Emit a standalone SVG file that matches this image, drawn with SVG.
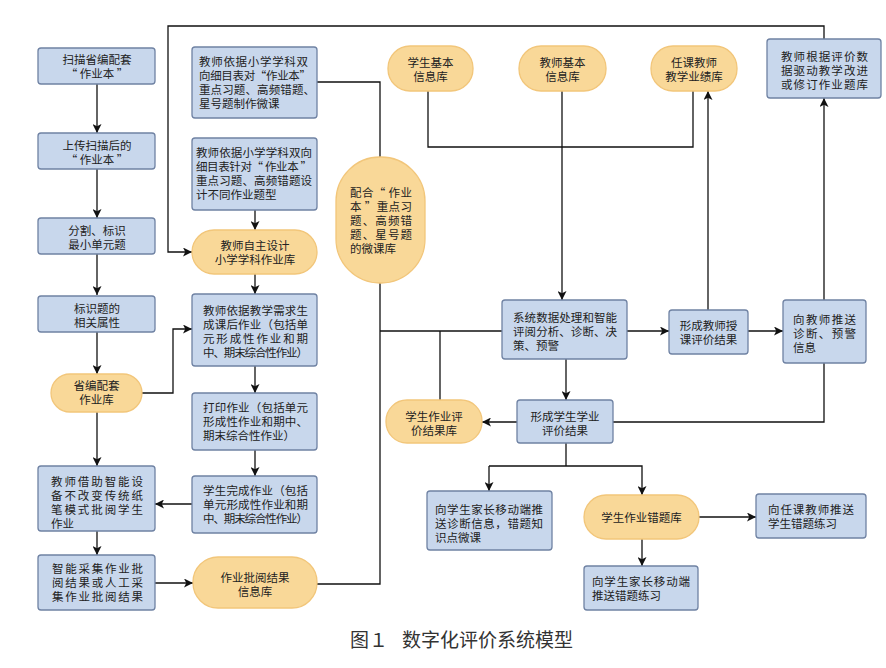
<svg xmlns="http://www.w3.org/2000/svg" width="886" height="668" viewBox="0 0 886 668">
<style>
.b{fill:#c8d7ec;stroke:#6f82a3;stroke-width:1.3}
.o{fill:#f9d898;stroke:#f2c67a;stroke-width:1.3}
text{font-family:"Noto Sans CJK SC","Noto Sans",sans-serif;font-size:11.5px;fill:#222}
.c{text-anchor:middle}
.cap{font-size:19px;fill:#333}
.ln{fill:none;stroke:#111;stroke-width:1.3}
.ar{fill:none;stroke:#111;stroke-width:1.3;marker-end:url(#a)}
</style>
<defs>
<marker id="a" viewBox="0 0 10 10" refX="10" refY="5" markerWidth="9" markerHeight="9" markerUnits="userSpaceOnUse" orient="auto">
<path d="M0,0 L10,5 L0,10 L2.5,5 Z" fill="#111"/>
</marker>
</defs>
<rect width="886" height="668" fill="#fff"/>

<g id="connectors">
<path class="ar" d="M97,84 V133"/>
<path class="ar" d="M97,169 V218"/>
<path class="ar" d="M97,254 V295"/>
<path class="ar" d="M97,332 V374"/>
<path class="ar" d="M97,412 V466"/>
<path class="ar" d="M97,531 V555"/>
<path class="ar" d="M155,583 H193"/>
<path class="ar" d="M192,504 H155"/>
<path class="ar" d="M142,393 H173 V329 H192"/>
<path class="ar" d="M255,210 V230"/>
<path class="ar" d="M255,274 V294"/>
<path class="ar" d="M255,366 V393"/>
<path class="ar" d="M255,450 V476"/>
<path class="ar" d="M824,39 V26 H168 V252 H192"/>
<path class="ln" d="M317,82 H380 V157"/>
<path class="ln" d="M380,283 V584 H317"/>
<path class="ln" d="M380,331 H502"/>
<path class="ln" d="M440,331 V400"/>
<path class="ln" d="M428,91 V147 H693 V91"/>
<path class="ar" d="M562,91 V300"/>
<path class="ar" d="M627,331 H669"/>
<path class="ar" d="M708,310 V91"/>
<path class="ar" d="M748,331 H783"/>
<path class="ar" d="M824,300 V98"/>
<path class="ln" d="M824,363 V422 H613"/>
<path class="ar" d="M566,359 V400"/>
<path class="ar" d="M517,422 H482"/>
<path class="ln" d="M566,443 V466"/>
<path class="ar" d="M489,466 H642 V495"/>
<path class="ar" d="M489,466 V491"/>
<path class="ar" d="M699,517 H756"/>
<path class="ar" d="M642,539 V566"/>
</g>

<g id="n-scan">
<rect class="b" x="38" y="48" width="117" height="36" rx="3"/>
<text class="c"><tspan x="97" y="64">扫描省编配套</tspan><tspan x="97" y="78">“ 作业本 ”</tspan></text>
</g>
<g id="n-upload">
<rect class="b" x="38" y="133" width="117" height="36" rx="3"/>
<text class="c"><tspan x="97" y="149.5">上传扫描后的</tspan><tspan x="97" y="163.5">“ 作业本 ”</tspan></text>
</g>
<g id="n-split">
<rect class="b" x="38" y="218" width="117" height="36" rx="3"/>
<text class="c"><tspan x="97" y="234.5">分割、标识</tspan><tspan x="97" y="248.5">最小单元题</tspan></text>
</g>
<g id="n-attr">
<rect class="b" x="38" y="296" width="117" height="36" rx="3"/>
<text class="c"><tspan x="97" y="312.5">标识题的</tspan><tspan x="97" y="326.5">相关属性</tspan></text>
</g>
<g id="n-provlib">
<rect class="o" x="51" y="374" width="91" height="38" rx="19"/>
<text class="c"><tspan x="96.5" y="390">省编配套</tspan><tspan x="96.5" y="404">作业库</tspan></text>
</g>
<g id="n-mark">
<rect class="b" x="38" y="466" width="117" height="65" rx="3"/>
<text><tspan x="51" y="486" textLength="92">教师借助智能设</tspan><tspan x="51" y="500" textLength="92">备不改变传统纸</tspan><tspan x="51" y="514" textLength="92">笔模式批阅学生</tspan><tspan x="51" y="528">作业</tspan></text>
</g>
<g id="n-collect">
<rect class="b" x="38" y="555" width="117" height="55" rx="3"/>
<text><tspan x="52" y="573" textLength="91">智能采集作业批</tspan><tspan x="52" y="587" textLength="91">阅结果或人工采</tspan><tspan x="52" y="601" textLength="91">集作业批阅结果</tspan></text>
</g>

<g id="n-micro">
<rect class="b" x="192" y="47" width="125" height="71" rx="3"/>
<text><tspan x="199" y="66" textLength="109">教师依据小学学科双</tspan><tspan x="199" y="80" textLength="112">向细目表对“作业本”</tspan><tspan x="199" y="94" textLength="116">重点习题、高频错题、</tspan><tspan x="199" y="108">星号题制作微课</tspan></text>
</g>
<g id="n-design">
<rect class="b" x="192" y="138" width="125" height="72" rx="3"/>
<text><tspan x="196" y="157" textLength="116">教师依据小学学科双向</tspan><tspan x="196" y="171" textLength="116">细目表针对“ 作业本 ”</tspan><tspan x="196" y="185" textLength="116">重点习题、高频错题设</tspan><tspan x="196" y="199">计不同作业题型</tspan></text>
</g>
<g id="n-selflib">
<rect class="o" x="192" y="230" width="125" height="44" rx="22"/>
<text class="c"><tspan x="255" y="249.5">教师自主设计</tspan><tspan x="255" y="263.5">小学学科作业库</tspan></text>
</g>
<g id="n-gen">
<rect class="b" x="192" y="294" width="125" height="72" rx="3"/>
<text><tspan x="203" y="315" textLength="105">教师依据教学需求生</tspan><tspan x="203" y="329" textLength="105">成课后作业（包括单</tspan><tspan x="203" y="343" textLength="105">元形成性作业和期</tspan><tspan x="203" y="357" textLength="105">中、期末综合性作业）</tspan></text>
</g>
<g id="n-print">
<rect class="b" x="192" y="393" width="125" height="57" rx="3"/>
<text><tspan x="203" y="412" textLength="105">打印作业（包括单元</tspan><tspan x="203" y="426" textLength="105">形成性作业和期中、</tspan><tspan x="203" y="440">期末综合性作业）</tspan></text>
</g>
<g id="n-finish">
<rect class="b" x="192" y="476" width="125" height="57" rx="3"/>
<text><tspan x="203" y="495" textLength="105">学生完成作业（包括</tspan><tspan x="203" y="509" textLength="105">单元形成性作业和期</tspan><tspan x="203" y="523" textLength="105">中、期末综合性作业）</tspan></text>
</g>
<g id="n-resultlib">
<rect class="o" x="193" y="557" width="124" height="51" rx="25"/>
<text class="c"><tspan x="255" y="581.5">作业批阅结果</tspan><tspan x="255" y="595.5">信息库</tspan></text>
</g>

<g id="n-microlib">
<rect class="o" x="336" y="157" width="89" height="126" rx="44"/>
<text><tspan x="350" y="197" textLength="62">配合“ 作业</tspan><tspan x="350" y="211" textLength="62">本 ”重点习</tspan><tspan x="350" y="225" textLength="62">题、高频错</tspan><tspan x="350" y="239" textLength="62">题、星号题</tspan><tspan x="350" y="253">的微课库</tspan></text>
</g>

<g id="n-stulib">
<rect class="o" x="388" y="46" width="85" height="45" rx="22"/>
<text class="c"><tspan x="430.5" y="66.5">学生基本</tspan><tspan x="430.5" y="80.5">信息库</tspan></text>
</g>
<g id="n-tealib">
<rect class="o" x="519" y="46" width="87" height="45" rx="22"/>
<text class="c"><tspan x="562.5" y="66.5">教师基本</tspan><tspan x="562.5" y="80.5">信息库</tspan></text>
</g>
<g id="n-perflib">
<rect class="o" x="651" y="46" width="86" height="45" rx="22"/>
<text class="c"><tspan x="694" y="66.5">任课教师</tspan><tspan x="694" y="80.5">教学业绩库</tspan></text>
</g>
<g id="n-improve">
<rect class="b" x="767" y="39" width="114" height="59" rx="3"/>
<text><tspan x="781" y="61" textLength="87">教师根据评价数</tspan><tspan x="781" y="75" textLength="87">据驱动教学改进</tspan><tspan x="781" y="89" textLength="87">或修订作业题库</tspan></text>
</g>

<g id="n-system">
<rect class="b" x="502" y="300" width="125" height="59" rx="3"/>
<text><tspan x="513" y="321.5" textLength="104">系统数据处理和智能</tspan><tspan x="513" y="335.5" textLength="104">评阅分析、诊断、决</tspan><tspan x="513" y="349.5">策、预警</tspan></text>
</g>
<g id="n-teaeval">
<rect class="b" x="669" y="310" width="79" height="44" rx="3"/>
<text class="c"><tspan x="708.5" y="330">形成教师授</tspan><tspan x="708.5" y="344">课评价结果</tspan></text>
</g>
<g id="n-push-tea">
<rect class="b" x="783" y="300" width="83" height="63" rx="3"/>
<text><tspan x="793" y="323.5" textLength="63">向教师推送</tspan><tspan x="793" y="337.5" textLength="63">诊断、预警</tspan><tspan x="793" y="351.5">信息</tspan></text>
</g>
<g id="n-stueval">
<rect class="b" x="517" y="400" width="96" height="43" rx="3"/>
<text class="c"><tspan x="565" y="421">形成学生学业</tspan><tspan x="565" y="435">评价结果</tspan></text>
</g>
<g id="n-stuevallib">
<rect class="o" x="386" y="400" width="96" height="43" rx="21"/>
<text class="c"><tspan x="434" y="421">学生作业评</tspan><tspan x="434" y="435">价结果库</tspan></text>
</g>
<g id="n-push-parent1">
<rect class="b" x="427" y="491" width="125" height="59" rx="3"/>
<text><tspan x="435" y="514" textLength="108">向学生家长移动端推</tspan><tspan x="435" y="528" textLength="108">送诊断信息，错题知</tspan><tspan x="435" y="542">识点微课</tspan></text>
</g>
<g id="n-errlib">
<rect class="o" x="584" y="495" width="115" height="44" rx="22"/>
<text class="c" x="641.5" y="522">学生作业错题库</text>
</g>
<g id="n-push-tea2">
<rect class="b" x="756" y="494" width="110" height="44" rx="3"/>
<text><tspan x="768" y="514" textLength="86">向任课教师推送</tspan><tspan x="768" y="528">学生错题练习</tspan></text>
</g>
<g id="n-push-parent2">
<rect class="b" x="584" y="566" width="114" height="44" rx="3"/>
<text><tspan x="592" y="586" textLength="98">向学生家长移动端</tspan><tspan x="592" y="600">推送错题练习</tspan></text>
</g>

<g id="caption">
<text class="cap" x="350" y="647">图１</text>
<text class="cap" x="402" y="647" textLength="171">数字化评价系统模型</text>
</g>
</svg>
